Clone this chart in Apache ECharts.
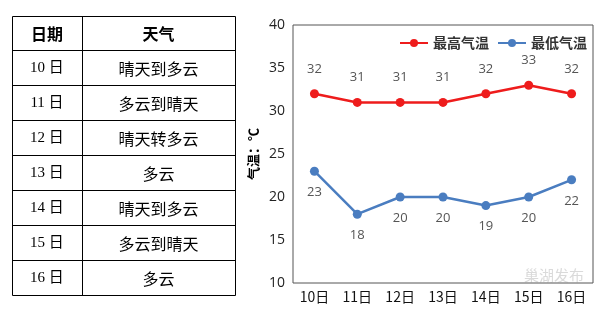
<!DOCTYPE html>
<html><head><meta charset="utf-8">
<script src="https://cdn.jsdelivr.net/npm/echarts@6/dist/echarts.min.js"></script>
<style>html,body{margin:0;padding:0;background:#fff}#c{width:600px;height:309px}</style>
</head><body><div id="c"></div>
<script>
var categories = ['10日','11日','12日','13日','14日','15日','16日'];
var maxTemp = [32,31,31,31,32,33,32];
var minTemp = [23,18,20,20,19,20,22];
var tableHeader = ['日期','天气'];
var tableDates = ['10 日','11 日','12 日','13 日','14 日','15 日','16 日'];
var tableWeather = ['晴天到多云','多云到晴天','晴天转多云','多云','晴天到多云','多云到晴天','多云'];
var yTicks = {min:10, max:40, interval:5};

var chart = echarts.init(document.getElementById('c'));

var tx0 = 12, tx1 = 82, tx2 = 235, ty0 = 16, hh = 34, rh = 35;
var g = [];
var nRows = tableDates.length;
var ty1 = ty0 + hh + nRows * rh;
g.push({type:'rect', shape:{x:tx0+0.5, y:ty0+0.5, width:tx2-tx0, height:ty1-ty0}, style:{fill:'none', stroke:'#000', lineWidth:1}});
g.push({type:'line', shape:{x1:tx1+0.5, y1:ty0, x2:tx1+0.5, y2:ty1}, style:{stroke:'#000', lineWidth:1}});
for (var i = 0; i <= nRows - 1; i++) {
  var yy = Math.round(ty0 + hh + i * rh) + 0.5;
  g.push({type:'line', shape:{x1:tx0, y1:yy, x2:tx2, y2:yy}, style:{stroke:'#000', lineWidth:1}});
}
g.push({type:'text', style:{text:tableHeader[0], x:(tx0+tx1)/2, y:ty0+hh/2+1, align:'center', verticalAlign:'middle', font:'bold 16px "Noto Sans CJK SC"', fill:'#000'}});
g.push({type:'text', style:{text:tableHeader[1], x:(tx1+tx2)/2, y:ty0+hh/2+1, align:'center', verticalAlign:'middle', font:'bold 16px "Noto Sans CJK SC"', fill:'#000'}});
for (var j = 0; j < nRows; j++) {
  var cy = ty0 + hh + j * rh + rh / 2 + 1;
  g.push({type:'text', style:{text:tableDates[j], x:(tx0+tx1)/2, y:cy, align:'center', verticalAlign:'middle', font:'15px "Liberation Serif","Noto Sans CJK SC"', fill:'#000'}});
  g.push({type:'text', style:{text:tableWeather[j], x:(tx1+tx2)/2, y:cy, align:'center', verticalAlign:'middle', font:'16px "Noto Sans CJK SC"', fill:'#000'}});
}
g.push({type:'text', style:{text:'巢湖发布', x:524, y:275, align:'left', verticalAlign:'middle', font:'15px "Noto Sans CJK SC"', fill:'rgba(150,150,150,0.35)'}});

chart.setOption({
  animation:false,
  backgroundColor:'#fff',
  graphic:g,
  legend:{
    right:8, top:31, itemWidth:28, itemHeight:10, itemGap:8,
    textStyle:{fontSize:14, fontWeight:'bold', color:'#333', fontFamily:'"Noto Sans CJK SC"'},
    data:['最高气温','最低气温']
  },
  grid:{left:293, top:25, right:7, bottom:26, show:true, borderColor:'#555', borderWidth:1},
  xAxis:{
    type:'category', data:categories, boundaryGap:true,
    axisLine:{show:false}, axisTick:{show:false},
    axisLabel:{fontSize:14, color:'#111', margin:7, fontFamily:'"Noto Sans CJK SC"'}
  },
  yAxis:{
    type:'value', min:yTicks.min, max:yTicks.max, interval:yTicks.interval,
    name:'气温：℃', nameLocation:'middle', nameGap:33, nameRotate:90,
    nameTextStyle:{fontSize:13, fontWeight:'bold', color:'#000', fontFamily:'"Noto Sans CJK SC"'},
    axisLine:{show:false}, axisTick:{show:false}, splitLine:{show:false},
    axisLabel:{fontSize:14, color:'#222', margin:8, fontFamily:'"Open Sans"'}
  },
  series:[
    {name:'最高气温', type:'line', data:maxTemp, color:'#ee1c1c',
     symbol:'circle', symbolSize:9, lineStyle:{width:2.5},
     label:{show:true, position:'top', distance:14, fontSize:13, color:'#555', fontFamily:'"Open Sans"'}},
    {name:'最低气温', type:'line', data:minTemp, color:'#4a7dc0',
     symbol:'circle', symbolSize:9, lineStyle:{width:2.5},
     label:{show:true, position:'bottom', distance:10, fontSize:13, color:'#555', fontFamily:'"Open Sans"'}}
  ]
});
</script></body></html>
